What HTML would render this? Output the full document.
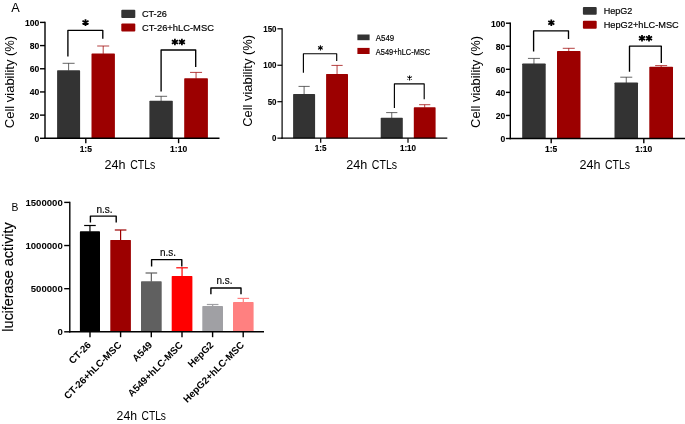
<!DOCTYPE html>
<html><head><meta charset="utf-8"><title>Figure</title>
<style>html,body{margin:0;padding:0;background:#fff;}svg{display:block;will-change:transform;font-family:"Liberation Sans",sans-serif;}</style></head><body>
<svg width="685" height="424" viewBox="0 0 685 424">
<rect width="685" height="424" fill="#fff"/>
<!-- A1 -->
<text x="11.2" y="11.9" font-size="12.4" textLength="8.5" lengthAdjust="spacingAndGlyphs">A</text>
<line x1="68.6" y1="63.3" x2="68.6" y2="70.7" stroke="#333333" stroke-width="0.75"/>
<line x1="62.6" y1="63.3" x2="74.6" y2="63.3" stroke="#333333" stroke-width="0.75"/>
<path d="M57.10 138.3V70.90Q57.10 70.20 57.80 70.20H79.40Q80.10 70.20 80.10 70.90V138.3Z" fill="#333333"/>
<line x1="103.2" y1="46.0" x2="103.2" y2="53.9" stroke="#9c0000" stroke-width="0.75"/>
<line x1="97.2" y1="46.0" x2="109.2" y2="46.0" stroke="#9c0000" stroke-width="0.75"/>
<path d="M91.50 138.3V54.10Q91.50 53.40 92.20 53.40H114.20Q114.90 53.40 114.90 54.10V138.3Z" fill="#9c0000"/>
<line x1="161.1" y1="96.3" x2="161.1" y2="101.3" stroke="#333333" stroke-width="0.75"/>
<line x1="155.1" y1="96.3" x2="167.1" y2="96.3" stroke="#333333" stroke-width="0.75"/>
<path d="M149.40 138.3V101.50Q149.40 100.80 150.10 100.80H172.10Q172.80 100.80 172.80 101.50V138.3Z" fill="#333333"/>
<line x1="196.05" y1="72.4" x2="196.05" y2="78.7" stroke="#9c0000" stroke-width="0.75"/>
<line x1="190.05" y1="72.4" x2="202.05" y2="72.4" stroke="#9c0000" stroke-width="0.75"/>
<path d="M184.20 138.3V78.90Q184.20 78.20 184.90 78.20H207.20Q207.90 78.20 207.90 78.90V138.3Z" fill="#9c0000"/>
<line x1="45.0" y1="21.7" x2="45.0" y2="139.0" stroke="#000" stroke-width="1.4"/>
<line x1="44.3" y1="138.3" x2="219.5" y2="138.3" stroke="#000" stroke-width="1.4"/>
<line x1="40.0" y1="138.3" x2="45.0" y2="138.3" stroke="#000" stroke-width="1.4"/>
<text x="34.52" y="141.7" font-size="9.8" font-weight="bold" textLength="4.78" lengthAdjust="spacingAndGlyphs" stroke="#000" stroke-width="0.1">0</text>
<line x1="40.0" y1="115.12" x2="45.0" y2="115.12" stroke="#000" stroke-width="1.4"/>
<text x="29.74" y="118.52" font-size="9.8" font-weight="bold" textLength="9.56" lengthAdjust="spacingAndGlyphs" stroke="#000" stroke-width="0.1">20</text>
<line x1="40.0" y1="91.94" x2="45.0" y2="91.94" stroke="#000" stroke-width="1.4"/>
<text x="29.74" y="95.34" font-size="9.8" font-weight="bold" textLength="9.56" lengthAdjust="spacingAndGlyphs" stroke="#000" stroke-width="0.1">40</text>
<line x1="40.0" y1="68.76" x2="45.0" y2="68.76" stroke="#000" stroke-width="1.4"/>
<text x="29.74" y="72.16" font-size="9.8" font-weight="bold" textLength="9.56" lengthAdjust="spacingAndGlyphs" stroke="#000" stroke-width="0.1">60</text>
<line x1="40.0" y1="45.58" x2="45.0" y2="45.58" stroke="#000" stroke-width="1.4"/>
<text x="29.74" y="48.98" font-size="9.8" font-weight="bold" textLength="9.56" lengthAdjust="spacingAndGlyphs" stroke="#000" stroke-width="0.1">80</text>
<line x1="40.0" y1="22.4" x2="45.0" y2="22.4" stroke="#000" stroke-width="1.4"/>
<text x="24.96" y="25.8" font-size="9.8" font-weight="bold" textLength="14.34" lengthAdjust="spacingAndGlyphs" stroke="#000" stroke-width="0.1">100</text>
<line x1="85.8" y1="138.3" x2="85.8" y2="143.2" stroke="#000" stroke-width="1.4"/>
<text x="79.65" y="152.2" font-size="8.6" font-weight="bold" textLength="12.3" lengthAdjust="spacingAndGlyphs" stroke="#000" stroke-width="0.12">1:5</text>
<line x1="178.6" y1="138.3" x2="178.6" y2="143.2" stroke="#000" stroke-width="1.4"/>
<text x="170.05" y="152.2" font-size="8.6" font-weight="bold" textLength="17.1" lengthAdjust="spacingAndGlyphs" stroke="#000" stroke-width="0.12">1:10</text>
<path d="M67.9 56.6V30.3H102.8V38.7" fill="none" stroke="#000" stroke-width="1.35" stroke-linejoin="round"/>
<path d="M85.50 25.89L85.50 19.31M82.47 24.35L88.53 20.85M88.53 24.35L82.47 20.85" fill="none" stroke="#000" stroke-width="1.75"/>
<path d="M161.1 91.6V50.0H195.7V67.1" fill="none" stroke="#000" stroke-width="1.35" stroke-linejoin="round"/>
<path d="M174.90 45.29L174.90 38.71M171.87 43.75L177.93 40.25M177.93 43.75L171.87 40.25" fill="none" stroke="#000" stroke-width="1.75"/>
<path d="M181.90 45.29L181.90 38.71M178.87 43.75L184.93 40.25M184.93 43.75L178.87 40.25" fill="none" stroke="#000" stroke-width="1.75"/>
<text transform="translate(13.8 128.2) rotate(-90)" font-size="12.6" textLength="92.4" lengthAdjust="spacingAndGlyphs">Cell viability (%)</text>
<text x="104.6" y="168.8" font-size="12.7" textLength="21.03" lengthAdjust="spacingAndGlyphs">24h</text>
<text x="130.2" y="168.8" font-size="12.7" textLength="25.2" lengthAdjust="spacingAndGlyphs">CTLs</text>
<rect x="121.30" y="9.80" width="14.00" height="8.10" fill="#333333" rx="1"/>
<rect x="121.30" y="23.60" width="14.00" height="8.00" fill="#9c0000" rx="1"/>
<text x="141.9" y="17.0" font-size="9.5" textLength="25.0" lengthAdjust="spacingAndGlyphs" stroke="#000" stroke-width="0.18">CT-26</text>
<text x="141.9" y="30.8" font-size="9.5" textLength="72.0" lengthAdjust="spacingAndGlyphs" stroke="#000" stroke-width="0.18">CT-26+hLC-MSC</text>
<!-- A2 -->
<line x1="304.1" y1="86.4" x2="304.1" y2="94.5" stroke="#333333" stroke-width="0.75"/>
<line x1="298.5" y1="86.4" x2="309.7" y2="86.4" stroke="#333333" stroke-width="0.75"/>
<path d="M293.10 138.15V94.70Q293.10 94.00 293.80 94.00H314.40Q315.10 94.00 315.10 94.70V138.15Z" fill="#333333"/>
<line x1="337.05" y1="65.4" x2="337.05" y2="74.4" stroke="#9c0000" stroke-width="0.75"/>
<line x1="331.45" y1="65.4" x2="342.65" y2="65.4" stroke="#9c0000" stroke-width="0.75"/>
<path d="M326.10 138.15V74.60Q326.10 73.90 326.80 73.90H347.30Q348.00 73.90 348.00 74.60V138.15Z" fill="#9c0000"/>
<line x1="391.75" y1="112.6" x2="391.75" y2="118.2" stroke="#333333" stroke-width="0.75"/>
<line x1="386.15" y1="112.6" x2="397.35" y2="112.6" stroke="#333333" stroke-width="0.75"/>
<path d="M380.70 138.15V118.40Q380.70 117.70 381.40 117.70H402.10Q402.80 117.70 402.80 118.40V138.15Z" fill="#333333"/>
<line x1="424.7" y1="104.7" x2="424.7" y2="107.7" stroke="#9c0000" stroke-width="0.75"/>
<line x1="419.1" y1="104.7" x2="430.3" y2="104.7" stroke="#9c0000" stroke-width="0.75"/>
<path d="M413.80 138.15V107.90Q413.80 107.20 414.50 107.20H434.90Q435.60 107.20 435.60 107.90V138.15Z" fill="#9c0000"/>
<line x1="282.1" y1="28.2" x2="282.1" y2="138.75" stroke="#000" stroke-width="1.2"/>
<line x1="281.5" y1="138.15" x2="447.3" y2="138.15" stroke="#000" stroke-width="1.2"/>
<line x1="277.4" y1="138.15" x2="282.1" y2="138.15" stroke="#000" stroke-width="1.2"/>
<text x="272.08" y="141.15" font-size="9.0" font-weight="bold" textLength="4.42" lengthAdjust="spacingAndGlyphs" stroke="#000" stroke-width="0.1">0</text>
<line x1="277.4" y1="101.7" x2="282.1" y2="101.7" stroke="#000" stroke-width="1.2"/>
<text x="267.66" y="104.7" font-size="9.0" font-weight="bold" textLength="8.84" lengthAdjust="spacingAndGlyphs" stroke="#000" stroke-width="0.1">50</text>
<line x1="277.4" y1="65.25" x2="282.1" y2="65.25" stroke="#000" stroke-width="1.2"/>
<text x="263.24" y="68.25" font-size="9.0" font-weight="bold" textLength="13.26" lengthAdjust="spacingAndGlyphs" stroke="#000" stroke-width="0.1">100</text>
<line x1="277.4" y1="28.8" x2="282.1" y2="28.8" stroke="#000" stroke-width="1.2"/>
<text x="263.24" y="31.8" font-size="9.0" font-weight="bold" textLength="13.26" lengthAdjust="spacingAndGlyphs" stroke="#000" stroke-width="0.1">150</text>
<line x1="320.7" y1="138.15" x2="320.7" y2="142.7" stroke="#000" stroke-width="1.2"/>
<text x="314.85" y="151.3" font-size="8.2" font-weight="bold" textLength="11.7" lengthAdjust="spacingAndGlyphs" stroke="#000" stroke-width="0.12">1:5</text>
<line x1="408.0" y1="138.15" x2="408.0" y2="142.7" stroke="#000" stroke-width="1.2"/>
<text x="399.9" y="151.3" font-size="8.2" font-weight="bold" textLength="16.2" lengthAdjust="spacingAndGlyphs" stroke="#000" stroke-width="0.12">1:10</text>
<path d="M303.4 72.8V53.7H336.7V61.0" fill="none" stroke="#000" stroke-width="1.15" stroke-linejoin="round"/>
<path d="M320.40 50.44L320.40 45.36M318.06 49.25L322.74 46.55M322.74 49.25L318.06 46.55" fill="none" stroke="#000" stroke-width="1.01"/>
<path d="M394.4 107.9V83.9H424.2V99.3" fill="none" stroke="#000" stroke-width="1.15" stroke-linejoin="round"/>
<path d="M409.60 80.54L409.60 75.46M407.26 79.35L411.94 76.65M411.94 79.35L407.26 76.65" fill="none" stroke="#000" stroke-width="1.01"/>
<text transform="translate(252.3 126.8) rotate(-90)" font-size="12.6" textLength="91.8" lengthAdjust="spacingAndGlyphs">Cell viability (%)</text>
<text x="346.2" y="169.0" font-size="12.7" textLength="21.07" lengthAdjust="spacingAndGlyphs">24h</text>
<text x="371.85" y="169.0" font-size="12.7" textLength="25.25" lengthAdjust="spacingAndGlyphs">CTLs</text>
<rect x="357.40" y="34.50" width="12.20" height="5.70" fill="#333333"/>
<rect x="357.40" y="47.90" width="12.20" height="6.10" fill="#9c0000"/>
<text x="375.8" y="40.8" font-size="9.2" textLength="18.4" lengthAdjust="spacingAndGlyphs" stroke="#000" stroke-width="0.18">A549</text>
<text x="375.8" y="54.5" font-size="9.2" textLength="54.4" lengthAdjust="spacingAndGlyphs" stroke="#000" stroke-width="0.18">A549+hLC-MSC</text>
<!-- A3 -->
<line x1="533.95" y1="58.4" x2="533.95" y2="64.1" stroke="#333333" stroke-width="0.75"/>
<line x1="527.95" y1="58.4" x2="539.95" y2="58.4" stroke="#333333" stroke-width="0.75"/>
<path d="M522.20 138.5V64.30Q522.20 63.60 522.90 63.60H545.00Q545.70 63.60 545.70 64.30V138.5Z" fill="#333333"/>
<line x1="568.75" y1="48.3" x2="568.75" y2="51.5" stroke="#9c0000" stroke-width="0.75"/>
<line x1="562.75" y1="48.3" x2="574.75" y2="48.3" stroke="#9c0000" stroke-width="0.75"/>
<path d="M557.00 138.5V51.70Q557.00 51.00 557.70 51.00H579.80Q580.50 51.00 580.50 51.70V138.5Z" fill="#9c0000"/>
<line x1="626.25" y1="77.2" x2="626.25" y2="83.0" stroke="#333333" stroke-width="0.75"/>
<line x1="620.25" y1="77.2" x2="632.25" y2="77.2" stroke="#333333" stroke-width="0.75"/>
<path d="M614.50 138.5V83.20Q614.50 82.50 615.20 82.50H637.30Q638.00 82.50 638.00 83.20V138.5Z" fill="#333333"/>
<line x1="661.15" y1="65.6" x2="661.15" y2="67.2" stroke="#9c0000" stroke-width="0.75"/>
<line x1="655.15" y1="65.6" x2="667.15" y2="65.6" stroke="#9c0000" stroke-width="0.75"/>
<path d="M649.30 138.5V67.40Q649.30 66.70 650.00 66.70H672.30Q673.00 66.70 673.00 67.40V138.5Z" fill="#9c0000"/>
<line x1="510.3" y1="22.5" x2="510.3" y2="139.2" stroke="#000" stroke-width="1.4"/>
<line x1="509.6" y1="138.5" x2="685" y2="138.5" stroke="#000" stroke-width="1.4"/>
<line x1="505.9" y1="138.5" x2="510.3" y2="138.5" stroke="#000" stroke-width="1.4"/>
<text x="500.52" y="141.9" font-size="9.8" font-weight="bold" textLength="4.78" lengthAdjust="spacingAndGlyphs" stroke="#000" stroke-width="0.1">0</text>
<line x1="505.9" y1="115.44" x2="510.3" y2="115.44" stroke="#000" stroke-width="1.4"/>
<text x="495.74" y="118.84" font-size="9.8" font-weight="bold" textLength="9.56" lengthAdjust="spacingAndGlyphs" stroke="#000" stroke-width="0.1">20</text>
<line x1="505.9" y1="92.38" x2="510.3" y2="92.38" stroke="#000" stroke-width="1.4"/>
<text x="495.74" y="95.78" font-size="9.8" font-weight="bold" textLength="9.56" lengthAdjust="spacingAndGlyphs" stroke="#000" stroke-width="0.1">40</text>
<line x1="505.9" y1="69.32" x2="510.3" y2="69.32" stroke="#000" stroke-width="1.4"/>
<text x="495.74" y="72.72" font-size="9.8" font-weight="bold" textLength="9.56" lengthAdjust="spacingAndGlyphs" stroke="#000" stroke-width="0.1">60</text>
<line x1="505.9" y1="46.26" x2="510.3" y2="46.26" stroke="#000" stroke-width="1.4"/>
<text x="495.74" y="49.66" font-size="9.8" font-weight="bold" textLength="9.56" lengthAdjust="spacingAndGlyphs" stroke="#000" stroke-width="0.1">80</text>
<line x1="505.9" y1="23.2" x2="510.3" y2="23.2" stroke="#000" stroke-width="1.4"/>
<text x="490.96" y="26.6" font-size="9.8" font-weight="bold" textLength="14.34" lengthAdjust="spacingAndGlyphs" stroke="#000" stroke-width="0.1">100</text>
<line x1="551.2" y1="138.5" x2="551.2" y2="143.2" stroke="#000" stroke-width="1.4"/>
<text x="545.05" y="152.3" font-size="8.6" font-weight="bold" textLength="12.3" lengthAdjust="spacingAndGlyphs" stroke="#000" stroke-width="0.12">1:5</text>
<line x1="643.8" y1="138.5" x2="643.8" y2="143.2" stroke="#000" stroke-width="1.4"/>
<text x="635.25" y="152.3" font-size="8.6" font-weight="bold" textLength="17.1" lengthAdjust="spacingAndGlyphs" stroke="#000" stroke-width="0.12">1:10</text>
<path d="M533.6 51.5V30.8H568.5V38.9" fill="none" stroke="#000" stroke-width="1.35" stroke-linejoin="round"/>
<path d="M551.30 26.09L551.30 19.51M548.27 24.55L554.33 21.05M554.33 24.55L548.27 21.05" fill="none" stroke="#000" stroke-width="1.75"/>
<path d="M629.5 71.8V46.1H661.3V62.9" fill="none" stroke="#000" stroke-width="1.35" stroke-linejoin="round"/>
<path d="M642.00 41.49L642.00 34.91M638.97 39.95L645.03 36.45M645.03 39.95L638.97 36.45" fill="none" stroke="#000" stroke-width="1.75"/>
<path d="M649.00 41.49L649.00 34.91M645.97 39.95L652.03 36.45M652.03 39.95L645.97 36.45" fill="none" stroke="#000" stroke-width="1.75"/>
<text transform="translate(479.6 127.9) rotate(-90)" font-size="12.6" textLength="91.9" lengthAdjust="spacingAndGlyphs">Cell viability (%)</text>
<text x="579.4" y="168.8" font-size="12.7" textLength="20.99" lengthAdjust="spacingAndGlyphs">24h</text>
<text x="604.95" y="168.8" font-size="12.7" textLength="25.15" lengthAdjust="spacingAndGlyphs">CTLs</text>
<rect x="582.90" y="7.00" width="13.80" height="7.80" fill="#333333" rx="1"/>
<rect x="582.90" y="20.80" width="13.80" height="7.90" fill="#9c0000" rx="1"/>
<text x="603.7" y="14.2" font-size="9.5" textLength="28.7" lengthAdjust="spacingAndGlyphs" stroke="#000" stroke-width="0.18">HepG2</text>
<text x="603.7" y="27.9" font-size="9.5" textLength="75.1" lengthAdjust="spacingAndGlyphs" stroke="#000" stroke-width="0.18">HepG2+hLC-MSC</text>
<!-- B -->
<text x="11.5" y="210.6" font-size="11.6" textLength="6.9" lengthAdjust="spacingAndGlyphs">B</text>
<line x1="89.95" y1="225.5" x2="89.95" y2="231.8" stroke="#000000" stroke-width="1.2"/>
<line x1="84.15" y1="225.5" x2="95.75" y2="225.5" stroke="#000000" stroke-width="1.2"/>
<path d="M79.90 331.8V232.00Q79.90 231.30 80.60 231.30H99.30Q100.00 231.30 100.00 232.00V331.8Z" fill="#000000"/>
<line x1="120.6" y1="230.0" x2="120.6" y2="240.4" stroke="#9c0000" stroke-width="1.2"/>
<line x1="114.8" y1="230.0" x2="126.4" y2="230.0" stroke="#9c0000" stroke-width="1.2"/>
<path d="M110.30 331.8V240.60Q110.30 239.90 111.00 239.90H130.20Q130.90 239.90 130.90 240.60V331.8Z" fill="#9c0000"/>
<line x1="151.35" y1="273.0" x2="151.35" y2="281.7" stroke="#606060" stroke-width="1.2"/>
<line x1="145.55" y1="273.0" x2="157.15" y2="273.0" stroke="#606060" stroke-width="1.2"/>
<path d="M141.00 331.8V281.90Q141.00 281.20 141.70 281.20H161.00Q161.70 281.20 161.70 281.90V331.8Z" fill="#606060"/>
<line x1="182.05" y1="267.8" x2="182.05" y2="276.6" stroke="#ff0000" stroke-width="1.2"/>
<line x1="176.25" y1="267.8" x2="187.85" y2="267.8" stroke="#ff0000" stroke-width="1.2"/>
<path d="M171.70 331.8V276.80Q171.70 276.10 172.40 276.10H191.70Q192.40 276.10 192.40 276.80V331.8Z" fill="#ff0000"/>
<line x1="212.65" y1="304.5" x2="212.65" y2="306.5" stroke="#a0a0a4" stroke-width="1.2"/>
<line x1="206.85" y1="304.5" x2="218.45" y2="304.5" stroke="#a0a0a4" stroke-width="1.2"/>
<path d="M202.30 331.8V306.70Q202.30 306.00 203.00 306.00H222.30Q223.00 306.00 223.00 306.70V331.8Z" fill="#a0a0a4"/>
<line x1="243.3" y1="298.4" x2="243.3" y2="302.6" stroke="#ff8080" stroke-width="1.2"/>
<line x1="237.5" y1="298.4" x2="249.1" y2="298.4" stroke="#ff8080" stroke-width="1.2"/>
<path d="M233.00 331.8V302.80Q233.00 302.10 233.70 302.10H252.90Q253.60 302.10 253.60 302.80V331.8Z" fill="#ff8080"/>
<line x1="69.8" y1="201.70000000000002" x2="69.8" y2="332.5" stroke="#000" stroke-width="1.4"/>
<line x1="69.1" y1="331.8" x2="264.0" y2="331.8" stroke="#000" stroke-width="1.4"/>
<line x1="64.2" y1="331.8" x2="69.8" y2="331.8" stroke="#000" stroke-width="1.4"/>
<text x="62.8" y="335.3" font-size="9.6" font-weight="bold" text-anchor="end">0</text>
<line x1="64.2" y1="288.67" x2="69.8" y2="288.67" stroke="#000" stroke-width="1.4"/>
<text x="62.8" y="292.17" font-size="9.6" font-weight="bold" text-anchor="end">500000</text>
<line x1="64.2" y1="245.53" x2="69.8" y2="245.53" stroke="#000" stroke-width="1.4"/>
<text x="62.8" y="249.03" font-size="9.6" font-weight="bold" text-anchor="end">1000000</text>
<line x1="64.2" y1="202.4" x2="69.8" y2="202.4" stroke="#000" stroke-width="1.4"/>
<text x="62.8" y="205.9" font-size="9.6" font-weight="bold" text-anchor="end">1500000</text>
<line x1="90.0" y1="331.8" x2="90.0" y2="337.2" stroke="#000" stroke-width="1.4"/>
<text transform="translate(91.6 345.6) rotate(-45)" font-size="9.8" font-weight="bold" text-anchor="end">CT-26</text>
<line x1="120.6" y1="331.8" x2="120.6" y2="337.2" stroke="#000" stroke-width="1.4"/>
<text transform="translate(122.2 345.6) rotate(-45)" font-size="9.8" font-weight="bold" text-anchor="end">CT-26+hLC-MSC</text>
<line x1="151.3" y1="331.8" x2="151.3" y2="337.2" stroke="#000" stroke-width="1.4"/>
<text transform="translate(152.9 345.6) rotate(-45)" font-size="9.8" font-weight="bold" text-anchor="end">A549</text>
<line x1="182.0" y1="331.8" x2="182.0" y2="337.2" stroke="#000" stroke-width="1.4"/>
<text transform="translate(183.6 345.6) rotate(-45)" font-size="9.8" font-weight="bold" text-anchor="end">A549+hLC-MSC</text>
<line x1="212.6" y1="331.8" x2="212.6" y2="337.2" stroke="#000" stroke-width="1.4"/>
<text transform="translate(214.2 345.6) rotate(-45)" font-size="9.8" font-weight="bold" text-anchor="end">HepG2</text>
<line x1="243.2" y1="331.8" x2="243.2" y2="337.2" stroke="#000" stroke-width="1.4"/>
<text transform="translate(244.8 345.6) rotate(-45)" font-size="9.8" font-weight="bold" text-anchor="end">HepG2+hLC-MSC</text>
<path d="M90.4 222.5V216.1H116.2V222.5" fill="none" stroke="#000" stroke-width="1.4" stroke-linejoin="round"/>
<text x="96.4" y="212.7" font-size="10" textLength="16.2" lengthAdjust="spacingAndGlyphs" stroke="#000" stroke-width="0.15">n.s.</text>
<path d="M151.6 266.5V259.6H181.8V266.5" fill="none" stroke="#000" stroke-width="1.4" stroke-linejoin="round"/>
<text x="159.9" y="255.9" font-size="10" textLength="16.0" lengthAdjust="spacingAndGlyphs" stroke="#000" stroke-width="0.15">n.s.</text>
<path d="M210.9 294.2V288.0H241.0V294.2" fill="none" stroke="#000" stroke-width="1.4" stroke-linejoin="round"/>
<text x="216.5" y="284.0" font-size="10" textLength="16.0" lengthAdjust="spacingAndGlyphs" stroke="#000" stroke-width="0.15">n.s.</text>
<text transform="translate(13.2 331.8) rotate(-90)" font-size="14.0" stroke="#000" stroke-width="0.15" textLength="109.5" lengthAdjust="spacingAndGlyphs">luciferase activity</text>
<text x="116.6" y="419.5" font-size="12.7" textLength="20.45" lengthAdjust="spacingAndGlyphs">24h</text>
<text x="141.5" y="419.5" font-size="12.7" textLength="24.5" lengthAdjust="spacingAndGlyphs">CTLs</text>
</svg></body></html>
